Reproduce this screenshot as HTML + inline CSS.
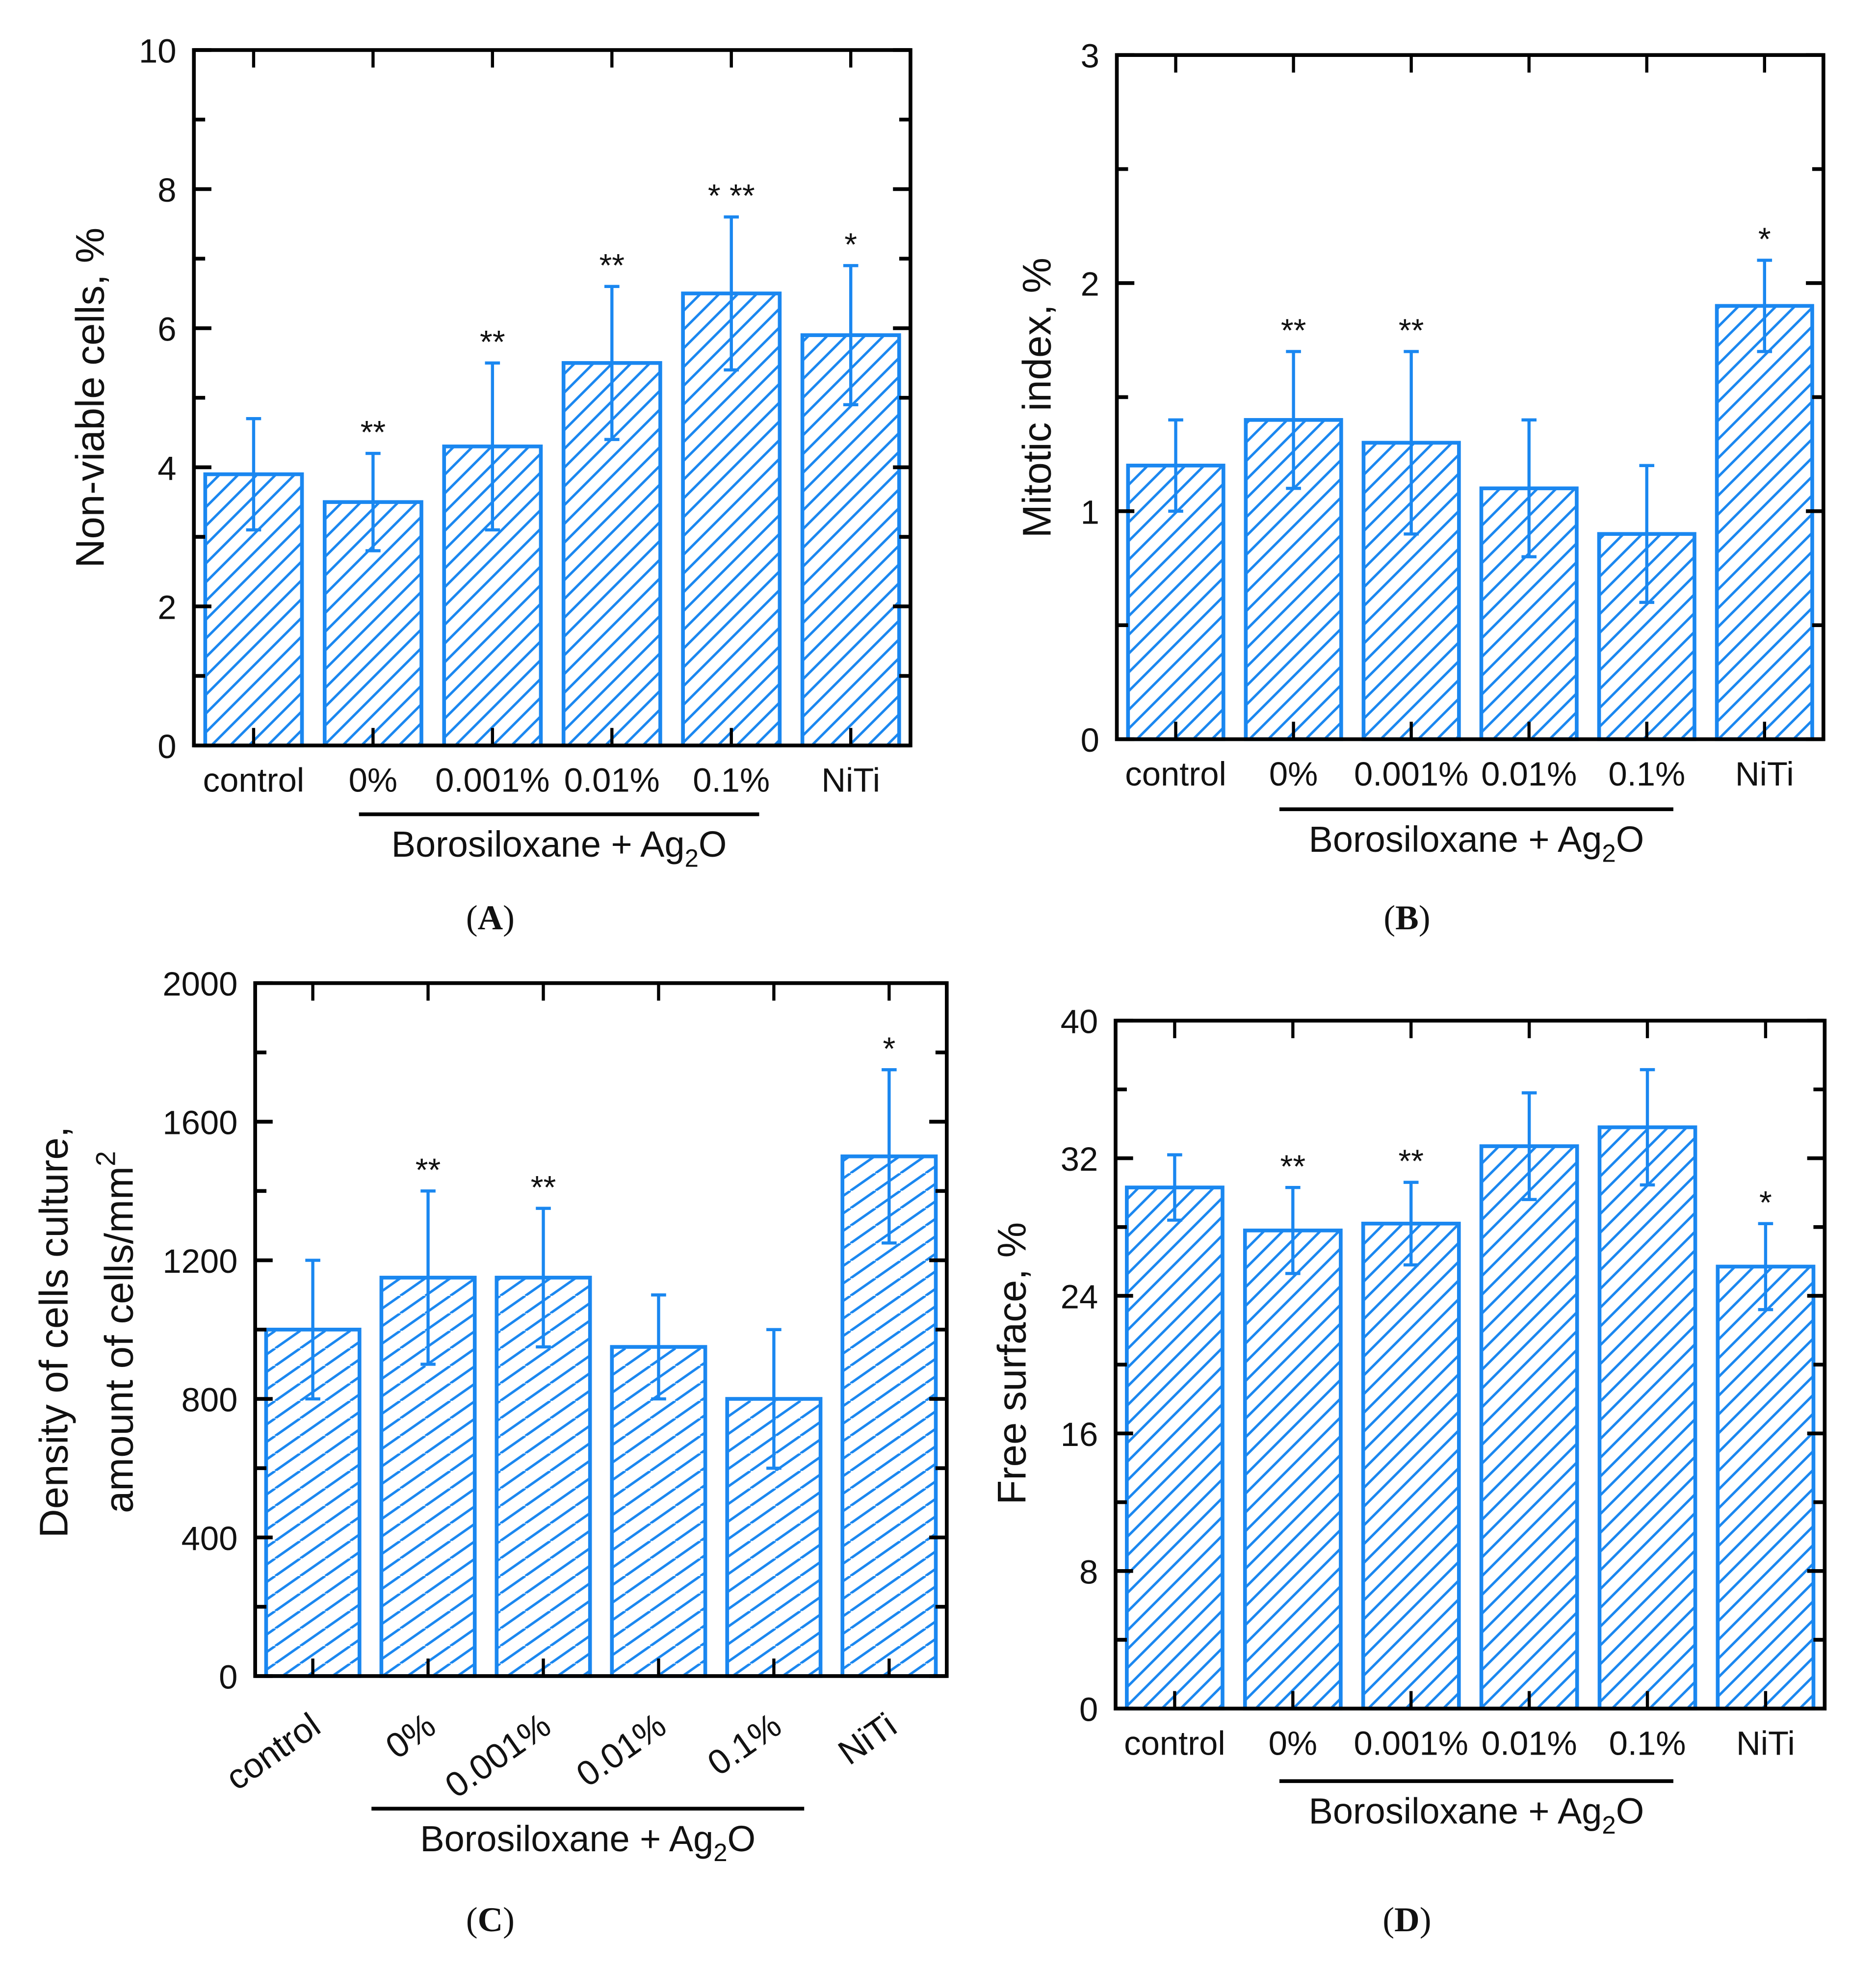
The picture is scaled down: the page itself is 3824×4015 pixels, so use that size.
<!DOCTYPE html>
<html><head><meta charset="utf-8"><style>
html,body{margin:0;padding:0;background:#fff;}
svg{display:block;}
text{font-family:"Liberation Sans",sans-serif;fill:#111;}
</style></head><body>
<svg id="fig" xmlns="http://www.w3.org/2000/svg" width="3824" height="4015" viewBox="0 0 1500 1575">
<defs>
<pattern id="hatch" patternUnits="userSpaceOnUse" width="15" height="15">
<path d="M-2,17 L17,-2 M-5,5 L5,-5 M10,20 L20,10" stroke="#1a87f0" stroke-width="2"/>
</pattern>
<pattern id="hatchC" patternUnits="userSpaceOnUse" width="20" height="14">
<path d="M0,14 L20,0 M-10,7 L0,0 M20,14 L30,7" stroke="#1a87f0" stroke-width="2"/>
</pattern>
</defs>
</svg>
<script>
const categories = ["control","0%","0.001%","0.01%","0.1%","NiTi"];
const valuesA = [3.9,3.5,4.3,5.5,6.5,5.9];
const errorsA = [0.8,0.7,1.2,1.1,1.1,1.0];
const starsA = ["","**","**","**","* **","*"];
const ticksA = [0,2,4,6,8,10];
const valuesB = [1.2,1.4,1.3,1.1,0.9,1.9];
const errorsB = [0.2,0.3,0.4,0.3,0.3,0.2];
const starsB = ["","**","**","","","*"];
const ticksB = [0,1,2,3];
const valuesC = [1000,1150,1150,950,800,1500];
const errorsC = [200,250,200,150,200,250];
const starsC = ["","**","**","","","*"];
const ticksC = [0,400,800,1200,1600,2000];
const valuesD = [30.3,27.8,28.2,32.7,33.8,25.7];
const errorsD = [1.9,2.5,2.4,3.1,3.35,2.5];
const starsD = ["","**","**","","","*"];
const ticksD = [0,8,16,24,32,40];

const NS="http://www.w3.org/2000/svg";
const svg=document.getElementById('fig');
const BLUE="#1a87f0";
function mk(tag,attrs,parent,txt){const e=document.createElementNS(NS,tag);for(const k in attrs)e.setAttribute(k,attrs[k]);if(txt!==undefined)e.textContent=txt;(parent||svg).appendChild(e);return e;}

function panel(cfg){
  const g=mk('g',{});
  
  
  const {x0,x1,y0,y1,max,vals,errs,stars,ticks,minor}=cfg;
  const ys=v=>y1-(v/max)*(y1-y0);
  const n=categories.length;
  const step=(x1-x0)/n;
  const xc=i=>x0+step*(i+0.5);
  const bw=step*0.81;
  for(let i=0;i<n;i++){
    const r=mk('rect',{x:xc(i)-bw/2,y:ys(vals[i]),width:bw,height:y1-ys(vals[i]),fill:"url(#"+cfg.pat+")",stroke:BLUE,'stroke-width':3},g);
    
    
    const e=mk('path',{d:`M${xc(i)},${ys(vals[i]+errs[i])}V${ys(vals[i]-errs[i])}M${xc(i)-6},${ys(vals[i]+errs[i])}h12M${xc(i)-6},${ys(vals[i]-errs[i])}h12`,stroke:BLUE,'stroke-width':2.5,fill:'none'},g);
    
    
    if(stars[i]){
      const s=mk('text',{x:xc(i),y:ys(vals[i]+errs[i])-8,'text-anchor':'middle','font-size':26},g,stars[i]);
      
      
    }
  }
  mk('rect',{x:x0,y:y0,width:x1-x0,height:y1-y0,fill:'none',stroke:'#000','stroke-width':3},g);
  for(let v=0;v<=max+1e-9;v+=minor){
    const isMaj=ticks.some(t=>Math.abs(t-v)<1e-9);
    const L=isMaj?14:9;
    mk('path',{d:`M${x0},${ys(v)}h${L}M${x1},${ys(v)}h${-L}`,stroke:'#000','stroke-width':3},g);
  }
  ticks.forEach(t=>{
    const tl=mk('text',{x:x0-14,y:ys(t)+10,'text-anchor':'end','font-size':27},g,String(t));
    
    
  });
  for(let i=0;i<n;i++){
    mk('path',{d:`M${xc(i)},${y0}v14M${xc(i)},${y1}v-14`,stroke:'#000','stroke-width':2.5},g);
    let t;
    if(cfg.rot){
      const tx=xc(i)+8, ty=y1+44;
      t=mk('text',{x:tx,y:ty,'text-anchor':'end','font-size':28,transform:`rotate(-35 ${tx} ${ty})`},g,categories[i]);
    }else{
      t=mk('text',{x:xc(i),y:y1+37,'text-anchor':'middle','font-size':27},g,categories[i]);
    }
    
    
  }
  const gl=mk('path',{d:`M${cfg.gx0},${cfg.gy}H${cfg.gx1}`,stroke:'#000','stroke-width':3},g);
  
  
  const gt=mk('text',{x:(cfg.gx0+cfg.gx1)/2,y:cfg.gy+34,'text-anchor':'middle','font-size':29},g);
  
  
  gt.appendChild(document.createTextNode('Borosiloxane + Ag'));
  mk('tspan',{'font-size':20,dy:8},gt,'2');
  mk('tspan',{'font-size':29,dy:-8},gt,'O');
  cfg.ytitle.forEach((line,k)=>{
    const tx=cfg.ytx[k];
    const yt=mk('text',{x:tx,y:cfg.yty,'text-anchor':'middle','font-size':32,transform:`rotate(-90 ${tx} ${cfg.yty})`},g);
    
    
    yt.appendChild(document.createTextNode(line));
    if(cfg.sup&&k==1){mk('tspan',{'font-size':22,dy:-14},yt,'2');}
  });
  const pl=mk('text',{x:cfg.lx,y:cfg.ly,'text-anchor':'middle','font-size':28,style:'font-family:"Liberation Serif",serif'},g);
  
  
  pl.appendChild(document.createTextNode('('));
  mk('tspan',{'font-weight':'bold'},pl,cfg.letter);
  pl.appendChild(document.createTextNode(')'));
}

panel({name:'chart-a-nonviable-cells',x0:155,x1:728,y0:40,y1:596,max:10,minor:1,vals:valuesA,errs:errorsA,stars:starsA,ticks:ticksA,pat:'hatch',
  gx0:287,gx1:607,gy:651,ytitle:['Non-viable cells, %'],ytx:[83],yty:318,lx:392,ly:743,letter:'A'});
panel({name:'chart-b-mitotic-index',x0:893,x1:1458,y0:44,y1:591,max:3,minor:0.5,vals:valuesB,errs:errorsB,stars:starsB,ticks:ticksB,pat:'hatch',
  gx0:1023,gx1:1338,gy:647,ytitle:['Mitotic index, %'],ytx:[840],yty:318,lx:1125,ly:743,letter:'B'});
panel({name:'chart-c-cell-density',x0:204,x1:757,y0:786,y1:1340,max:2000,minor:200,vals:valuesC,errs:errorsC,stars:starsC,ticks:ticksC,pat:'hatchC',rot:true,
  gx0:297,gx1:643,gy:1446,ytitle:['Density of cells culture,','amount of cells/mm'],ytx:[54,106],yty:1065,sup:true,lx:392,ly:1544,letter:'C'});
panel({name:'chart-d-free-surface',x0:892,x1:1459,y0:816,y1:1366,max:40,minor:4,vals:valuesD,errs:errorsD,stars:starsD,ticks:ticksD,pat:'hatch',
  gx0:1023,gx1:1338,gy:1424,ytitle:['Free surface, %'],ytx:[820],yty:1090,lx:1125,ly:1544,letter:'D'});
</script>
</body></html>
